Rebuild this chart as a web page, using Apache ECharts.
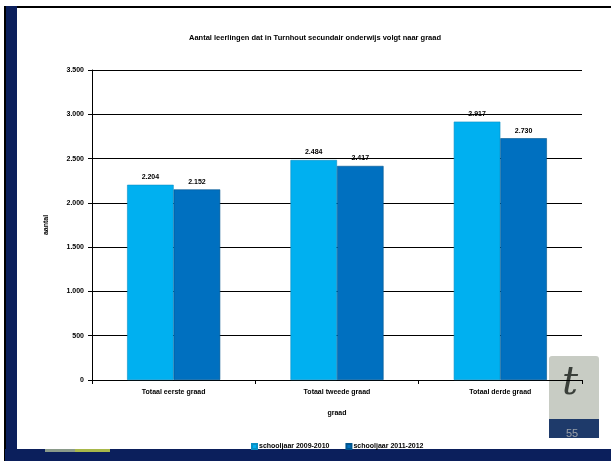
<!DOCTYPE html>
<html>
<head>
<meta charset="utf-8">
<script src="https://cdn.jsdelivr.net/npm/echarts@6/dist/echarts.min.js"></script>
<style>
  body { margin: 0; background: #fff; }
  #chart { width: 611px; height: 461px; }
</style>
</head>
<body>
<div id="chart"></div>
<script>
// categorieën en waarden
const categories = ['Totaal eerste graad', 'Totaal tweede graad', 'Totaal derde graad']
const serieNamen = ['schooljaar 2009-2010', 'schooljaar 2011-2012']
const jaar2009 = [2204, 2484, 2917]
const jaar2011 = [2152, 2417, 2730]
const yTicks = [0, 500, 1000, 1500, 2000, 2500, 3000, 3500]

const kleuren = ['#00B0F0', '#0070C0']
const fmt = v => String(v).replace(/\B(?=(\d{3})+(?!\d))/g, '.')
const lbl = { fontFamily: 'Liberation Sans', fontWeight: 'bold', fontSize: 7, color: '#000' }

let myChart = echarts.init(document.getElementById('chart'))
myChart.setOption({
  animation: false,
  backgroundColor: '#fff',
  title: {
    text: 'Aantal leerlingen dat in Turnhout secundair onderwijs volgt naar graad',
    left: 310,
    textAlign: 'center',
    top: 29,
    textStyle: { fontFamily: 'Liberation Sans', fontWeight: 'bold', fontSize: 7.5, color: '#000' }
  },
  legend: {
    data: serieNamen,
    left: 246,
    top: 438,
    itemWidth: 5,
    itemHeight: 5,
    itemGap: 16,
    icon: 'rect',
    textStyle: Object.assign({}, lbl, { padding: [0, 0, 0, -3] })
  },
  grid: { left: 92, right: 29, top: 70, bottom: 81, containLabel: false },
  xAxis: {
    type: 'category',
    data: categories,
    name: 'graad',
    nameLocation: 'middle',
    nameGap: 30,
    nameTextStyle: lbl,
    axisLine: { lineStyle: { color: '#000', width: 1 } },
    axisTick: { show: true, length: 4, inside: false, lineStyle: { color: '#000' } },
    axisLabel: Object.assign({}, lbl, { margin: 9 })
  },
  yAxis: {
    type: 'value',
    min: 0,
    max: 3500,
    interval: 500,
    name: 'aantal',
    nameLocation: 'middle',
    nameGap: 42,
    nameRotate: 90,
    nameTextStyle: lbl,
    axisLine: { show: true, lineStyle: { color: '#000', width: 1 } },
    axisTick: { show: true, length: 4, lineStyle: { color: '#000' } },
    axisLabel: Object.assign({}, lbl, { margin: 8, formatter: v => yTicks.includes(v) ? fmt(v) : '' }),
    splitLine: { lineStyle: { color: '#000', width: 1 } }
  },
  series: [
    {
      name: serieNamen[0],
      type: 'bar',
      data: jaar2009,
      barGap: '0%',
      barCategoryGap: '43%',
      itemStyle: { color: kleuren[0], borderColor: '#0A8FC4', borderWidth: 0.6 },
      label: Object.assign({ show: true, position: 'top', distance: 4, formatter: p => fmt(p.value) }, lbl)
    },
    {
      name: serieNamen[1],
      type: 'bar',
      data: jaar2011,
      itemStyle: { color: kleuren[1], borderColor: '#00558F', borderWidth: 0.6 },
      label: Object.assign({ show: true, position: 'top', distance: 4, formatter: p => fmt(p.value) }, lbl)
    }
  ],
  graphic: [
    // dia-rand
    { type: 'rect', shape: { x: 0, y: 0, width: 611, height: 7 }, style: { fill: '#fff' } },
    { type: 'rect', shape: { x: 5, y: 6, width: 606, height: 2 }, style: { fill: '#000' } },
    { type: 'rect', shape: { x: 5, y: 6, width: 12, height: 455 }, style: { fill: '#0B1F5C' } },
    { type: 'rect', shape: { x: 4, y: 6, width: 2, height: 455 }, style: { fill: '#000' } },
    { type: 'rect', shape: { x: 5, y: 449, width: 606, height: 12 }, style: { fill: '#0B1F5C' } },
    { type: 'rect', shape: { x: 45, y: 449, width: 30, height: 3 }, style: { fill: '#8A9A8A' } },
    { type: 'rect', shape: { x: 75, y: 449, width: 35, height: 3 }, style: { fill: '#A8B84A' } },
    // logo
    { type: 'rect', shape: { x: 549, y: 356, width: 50, height: 82, r: 3 }, style: { fill: '#C8CCC4' } },
    { type: 'rect', shape: { x: 549, y: 419, width: 50, height: 19 }, style: { fill: '#1E3A6A' } },
    { type: 'text', style: { x: 562, y: 364, text: 't', fontFamily: 'DejaVu Serif', fontSize: 40, fontStyle: 'italic', fill: '#3A3F3A' } },
    { type: 'text', style: { x: 566, y: 428, text: '55', fontFamily: 'Liberation Sans', fontSize: 11, fill: '#9AA0A8' } }
  ]
})
</script>
</body>
</html>
